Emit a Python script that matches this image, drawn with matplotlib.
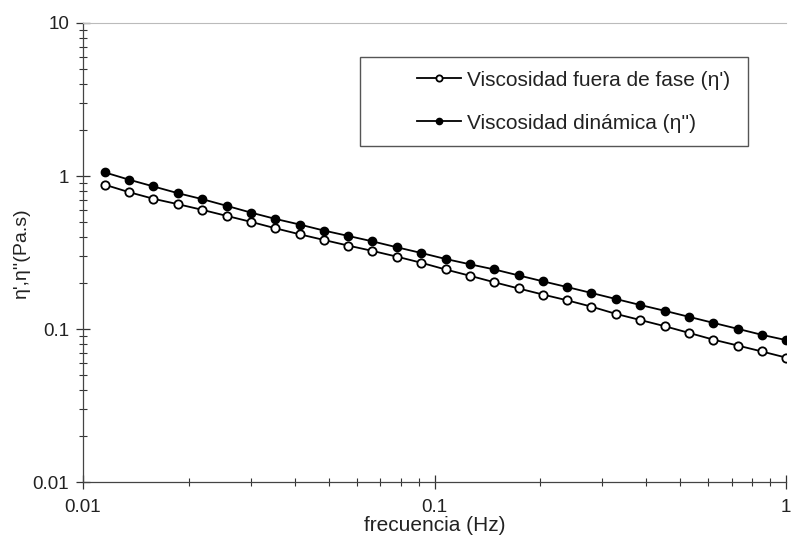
import matplotlib.pyplot as plt
from matplotlib.patches import Rectangle
from matplotlib.ticker import LogLocator, NullFormatter

plt.rcParams['font.family'] = ['Liberation Sans', 'DejaVu Sans']

# frecuencia (Hz)
freq = [0.01153, 0.01352, 0.01585, 0.01858, 0.02183, 0.02559, 0.02999, 0.03516,
        0.04130, 0.04842, 0.05675, 0.06653, 0.07816, 0.09162, 0.1074, 0.1259,
        0.1479, 0.1734, 0.2032, 0.2382, 0.2793, 0.3281, 0.3846, 0.4508, 0.5284,
        0.6194, 0.7278, 0.8531, 1.0]

# viscosidad fuera de fase (eta')
eta1 = [0.877, 0.784, 0.710, 0.655, 0.601, 0.549, 0.502, 0.456, 0.416, 0.382,
        0.351, 0.324, 0.297, 0.271, 0.245, 0.223, 0.202, 0.184, 0.168, 0.154,
        0.140, 0.1255, 0.1145, 0.1044, 0.0944, 0.0853, 0.078, 0.0713, 0.065]

# viscosidad dinamica (eta'')
eta2 = [1.056, 0.946, 0.855, 0.773, 0.706, 0.639, 0.577, 0.525, 0.482, 0.440,
        0.406, 0.374, 0.342, 0.314, 0.287, 0.265, 0.245, 0.224, 0.205, 0.188,
        0.172, 0.157, 0.1435, 0.1316, 0.1202, 0.1098, 0.1003, 0.0916, 0.0846]

labels = ["Viscosidad fuera de fase (η')", "Viscosidad dinámica (η'')"]

fig = plt.figure(figsize=(7.91, 5.41), dpi=100)
ax = fig.add_axes([0.105, 0.109, 0.889, 0.8485])

l1, = ax.plot(freq, eta1, '-o', color='black', lw=1.3, ms=6,
              mfc='white', mec='black', mew=1.3)
l2, = ax.plot(freq, eta2, '-o', color='black', lw=1.3, ms=6,
              mfc='black', mec='black')

ax.set_xscale('log')
ax.set_yscale('log')
ax.set_xlim(0.01, 1)
ax.set_ylim(0.01, 10)

ax.set_xticks([0.01, 0.1, 1], ['0.01', '0.1', '1'])
ax.set_yticks([0.01, 0.1, 1, 10], ['0.01', '0.1', '1', '10'])
ax.xaxis.set_minor_locator(LogLocator(base=10, subs=range(2, 10)))
ax.yaxis.set_minor_locator(LogLocator(base=10, subs=range(2, 10)))
ax.xaxis.set_minor_formatter(NullFormatter())
ax.yaxis.set_minor_formatter(NullFormatter())
ax.tick_params(which='major', direction='inout', length=10, width=0.9,
               labelsize=13.5, color='#333333', labelcolor='#222222')
ax.tick_params(which='minor', direction='inout', length=6, width=0.8, color='#333333')
ax.tick_params(axis='x', pad=7)
ax.tick_params(axis='y', pad=5)

ax.spines['right'].set_visible(False)
ax.spines['top'].set_color('#bbbbbb')
ax.spines['top'].set_linewidth(0.8)
ax.spines['left'].set_color('#444444')
ax.spines['bottom'].set_color('#444444')
ax.spines['left'].set_linewidth(0.9)
ax.spines['bottom'].set_linewidth(0.9)

ax.set_xlabel('frecuencia (Hz)', fontsize=15, color='#222222', labelpad=0)
ax.set_ylabel("η',η''(Pa.s)", fontsize=14, color='#222222', labelpad=2)

# legend box
ax.add_patch(Rectangle((0.394, 0.732), 0.552, 0.194, transform=ax.transAxes,
                       fill=False, edgecolor='#555555', lw=1.0, zorder=3))
leg = ax.legend([l1, l2], labels, loc='upper left', bbox_to_anchor=(0.454, 0.928),
                frameon=False, fontsize=15, handlelength=2.1, handletextpad=0.3,
                labelspacing=1.15, markerscale=0.75, borderpad=0.2)
for t in leg.get_texts():
    t.set_color('#222222')

fig.savefig('out.png', dpi=100)
